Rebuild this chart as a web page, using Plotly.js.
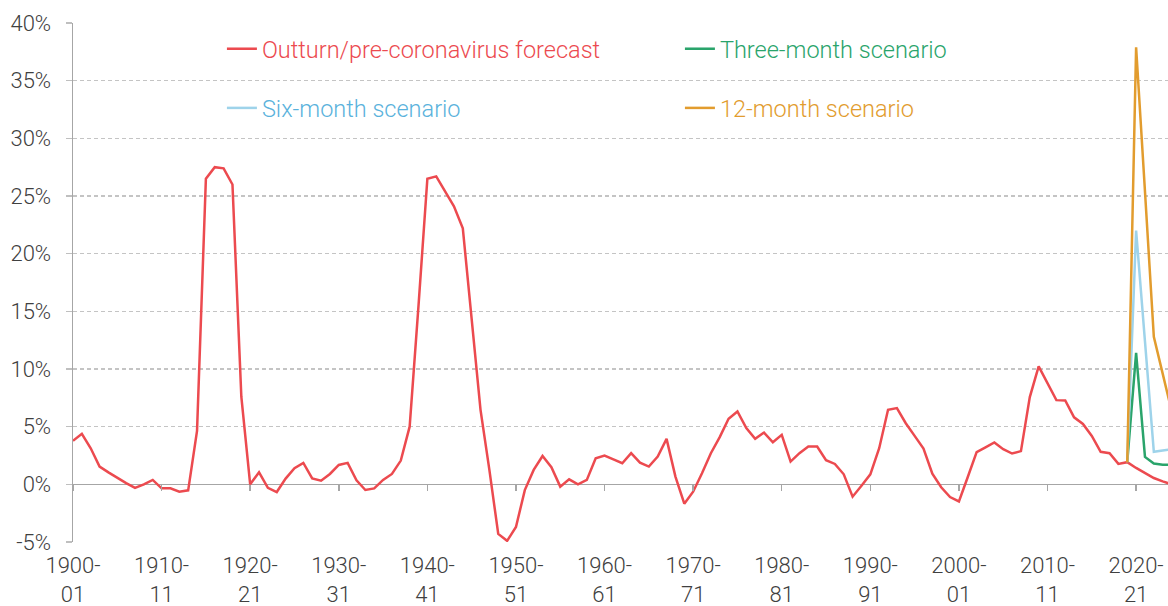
<!DOCTYPE html>
<html><head><meta charset="utf-8">
<script src="https://cdn.plot.ly/plotly-3.0.1.min.js"></script>
<style>html,body{margin:0;padding:0;background:#fff}#chart{width:1168px;height:606px}</style>
</head><body><div id="chart"></div>
<script>
// Fiscal years 1900-01 ... 2024-25
const firstYear = 1900;
const lastYear = 2024;
const categories = [];
for (let y = firstYear; y <= lastYear; y++) {
  categories.push(y + '-' + String((y + 1) % 100).padStart(2, '0'));
}

// Outturn / pre-coronavirus forecast (% of GDP)
const outturn = [
  3.77, 4.38, 3.13, 1.54, 1.04, 0.55, 0.10, -0.30, 0.00, 0.38,      // 1900s
  -0.35, -0.35, -0.64, -0.52, 4.64, 26.5, 27.5, 27.4, 26.0, 7.6,    // 1910s
  0.00, 1.04, -0.30, -0.67, 0.50, 1.39, 1.86, 0.52, 0.32, 0.90,     // 1920s
  1.68, 1.86, 0.35, -0.49, -0.35, 0.38, 0.90, 2.06, 5.0, 15.5,      // 1930s
  26.5, 26.7, 25.4, 24.1, 22.2, 14.6, 6.46, 1.25, -4.3, -4.9,       // 1940s
  -3.7, -0.5, 1.25, 2.46, 1.48, -0.2, 0.43, 0.00, 0.38, 2.26,       // 1950s
  2.49, 2.17, 1.83, 2.70, 1.88, 1.54, 2.40, 3.94, 0.67, -1.68,      // 1960s
  -0.64, 0.96, 2.70, 4.09, 5.68, 6.32, 4.87, 3.94, 4.49, 3.65,      // 1970s
  4.29, 1.97, 2.70, 3.28, 3.28, 2.09, 1.77, 0.87, -1.07, -0.12,     // 1980s
  0.87, 3.13, 6.46, 6.61, 5.30, 4.20, 3.10, 0.93, -0.25, -1.10,     // 1990s
  -1.48, 0.64, 2.79, 3.20, 3.63, 3.05, 2.67, 2.88, 7.56, 10.23,     // 2000s
  8.72, 7.30, 7.27, 5.81, 5.23, 4.19, 2.82, 2.70, 1.77, 1.92,       // 2010s
  1.42, 0.99, 0.55, 0.26, 0.00                                      // 2020s
];

// Scenarios, starting from 2019-20
const scenarioStart = '2019-20';
const threeMonth = [1.92, 11.4, 2.38, 1.80, 1.70, 1.70];
const sixMonth   = [1.92, 22.0, 12.4, 2.82, 2.94, 3.05];
const twelveMonth= [1.92, 37.9, 25.4, 12.8, 9.6, 6.4];

const tickYears = ['1900-01','1910-11','1920-21','1930-31','1940-41','1950-51','1960-61','1970-71','1980-81','1990-91','2000-01','2010-11','2020-21'];
const tickLabels = ['1900-<br>01','1910-<br>11','1920-<br>21','1930-<br>31','1940-<br>41','1950-<br>51','1960-<br>61','1970-<br>71','1980-<br>81','1990-<br>91','2000-<br>01','2010-<br>11','2020-<br>21'];

const yTicks = [-5, 0, 5, 10, 15, 20, 25, 30, 35, 40];
const yTickText = ['-5%', '0%', '5%', '10%', '15%', '20%', '25%', '30%', '35%', '40%'];

const names = ['Outturn/pre-coronavirus forecast', 'Three-month scenario', 'Six-month scenario', '12-month scenario'];
const colors = ['#ec4a4f', '#2aa46b', '#9ed3ea', '#e29c2e'];
const textColors = ['#ec4a4f', '#2aa46b', '#5ab2dc', '#e29c2e'];

const sIdx = categories.indexOf(scenarioStart);
const scenX = categories.slice(sIdx, sIdx + threeMonth.length);

const yMin = -5, yMax = 40;
const xRange = [0, 123.6];
const FONT = 'Roboto, "Liberation Sans", Arial, sans-serif';

function lbl(i) { return '<span style="color:' + textColors[i] + '">' + names[i] + '</span>'; }

const data = [
  { x: categories, y: outturn, type: 'scatter', mode: 'lines', name: lbl(0),
    line: { color: colors[0], width: 2.5 }, legend: 'legend', legendrank: 1 },
  { x: scenX, y: threeMonth, type: 'scatter', mode: 'lines', name: lbl(1),
    line: { color: colors[1], width: 2.5 }, legend: 'legend', legendrank: 2 },
  { x: scenX, y: sixMonth, type: 'scatter', mode: 'lines', name: lbl(2),
    line: { color: colors[2], width: 2.5 }, legend: 'legend2', legendrank: 1 },
  { x: scenX, y: twelveMonth, type: 'scatter', mode: 'lines', name: lbl(3),
    line: { color: colors[3], width: 2.5 }, legend: 'legend2', legendrank: 2 },
  // helper so the zero-line tick axis is drawn
  { x: categories, y: outturn, xaxis: 'x2', type: 'scatter', mode: 'lines',
    line: { width: 0 }, opacity: 0, showlegend: false, hoverinfo: 'skip' }
];

const legendCommon = {
  orientation: 'h', xanchor: 'left', yanchor: 'middle',
  entrywidth: 413, entrywidthmode: 'pixels',
  bgcolor: 'rgba(0,0,0,0)', borderwidth: 0,
  font: { family: FONT, size: 23.5, color: '#404040', weight: 300 }
};

const layout = {
  width: 1168, height: 606,
  margin: { l: 73, r: 0, t: 23, b: 64, pad: 0, autoexpand: false },
  paper_bgcolor: '#ffffff', plot_bgcolor: '#ffffff',
  font: { family: FONT, size: 22, color: '#404040', weight: 300 },
  showlegend: true,
  legend: Object.assign({}, legendCommon, { x: 0.136, y: 0.950 }),
  legend2: Object.assign({}, legendCommon, { x: 0.136, y: 0.836 }),
  xaxis: {
    type: 'category', range: xRange,
    tickvals: tickYears, ticktext: tickLabels,
    ticks: '', showline: false, showgrid: false, zeroline: false,
    tickfont: { family: FONT, size: 22, color: '#404040', weight: 300 },
    ticklabelstandoff: 8, fixedrange: true, automargin: false
  },
  xaxis2: {
    type: 'category', range: xRange, overlaying: 'x', anchor: 'free',
    position: (0 - yMin) / (yMax - yMin), side: 'bottom',
    tickvals: tickYears, ticks: 'outside', ticklen: 6, tickwidth: 1.5, tickcolor: '#a6a6a6',
    showticklabels: false, showline: false, showgrid: false, zeroline: false, automargin: false
  },
  yaxis: {
    range: [yMin, yMax], tickvals: yTicks, ticktext: yTickText,
    showline: true, linecolor: '#a6a6a6', linewidth: 1.5,
    ticks: 'outside', ticklen: 6, tickwidth: 1.5, tickcolor: '#bfbfbf',
    showgrid: true, gridcolor: '#c4c4c4', gridwidth: 1.3, griddash: '4px,3px',
    zeroline: true, zerolinecolor: '#a6a6a6', zerolinewidth: 1.5,
    tickfont: { family: FONT, size: 22, color: '#404040', weight: 300 },
    ticklabelstandoff: 10, fixedrange: true, automargin: false
  }
};

Plotly.newPlot('chart', data, layout, { staticPlot: true, displayModeBar: false });
</script>
</body></html>
